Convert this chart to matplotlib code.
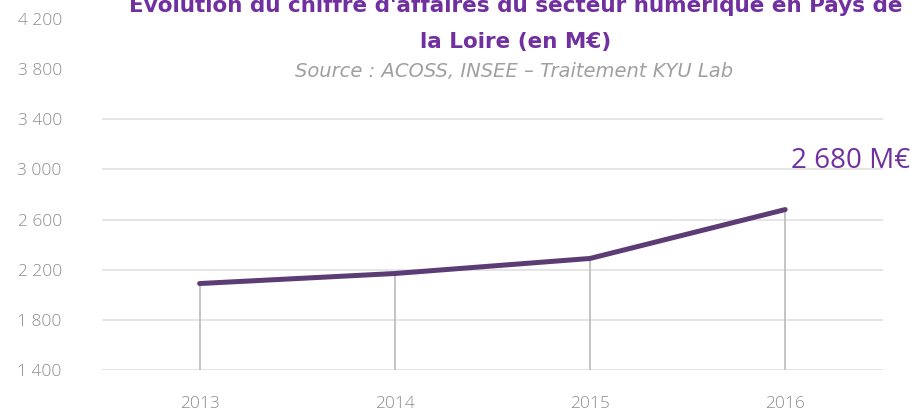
import matplotlib
matplotlib.use("Agg")
import matplotlib.pyplot as plt
from matplotlib.ticker import FuncFormatter

# Chiffre d'affaires du secteur numérique, Pays de la Loire (M€)
years = ["2013", "2014", "2015", "2016"]
revenue = [2090, 2170, 2290, 2680]
y_ticks = [1400, 1800, 2200, 2600, 3000, 3400, 3800, 4200]

title = "Évolution du chiffre d'affaires du secteur numérique en Pays de\nla Loire (en M€)"
subtitle = "Source : ACOSS, INSEE – Traitement KYU Lab"
last_label = "2 680 M€"

purple_line = "#5B3C74"
purple_text = "#7030A0"
grey_text = "#8C8C8C"

fig = plt.figure(figsize=(9.11, 4.13), dpi=100)
ax = fig.add_axes([0.112, 0.104, 0.857, 0.850])

x = list(range(len(years)))

# drop lines from each point down to the axis floor
ax.vlines(x, y_ticks[0], revenue, color="#BFBFBF", linewidth=1.3, zorder=2)
ax.plot(x, revenue, color=purple_line, linewidth=3.6, solid_capstyle="round", zorder=3)

ax.set_xlim(-0.5, len(years) - 0.5)
ax.set_ylim(y_ticks[0], y_ticks[-1])
ax.set_xticks(x)
ax.set_xticklabels(years)
ax.set_yticks(y_ticks)
ax.yaxis.set_major_formatter(FuncFormatter(lambda v, _: f"{int(v):,}".replace(",", " ")))

ax.grid(axis="y", color="#E3E3E3", linewidth=1.3, zorder=0)
for tick_val, line in zip(y_ticks, ax.get_ygridlines()):
    if tick_val > 3400:
        line.set_visible(False)

for s in ax.spines.values():
    s.set_visible(False)
ax.tick_params(length=0, labelsize=12.5, labelcolor=grey_text)
ax.tick_params(axis="y", pad=29)
ax.tick_params(axis="x", pad=19)
for lbl in ax.get_xticklabels() + ax.get_yticklabels():
    lbl.set_fontfamily("Open Sans")
    lbl.set_fontweight("light")

ax.annotate(last_label, xy=(x[-1], revenue[-1]), xytext=(4, 30), textcoords="offset points",
            ha="left", va="baseline", fontsize=20, color=purple_text, family="Open Sans",
            annotation_clip=False)

fig.text(0.566, 0.873, title, ha="center", va="bottom", fontsize=15.5, fontweight="bold",
         color=purple_text, family="DejaVu Sans", linespacing=2.05)
fig.text(0.564, 0.826, subtitle, ha="center", va="center", fontsize=14, style="italic",
         color="#A0A0A0", family="DejaVu Sans")

fig.savefig("out.png", dpi=100)
